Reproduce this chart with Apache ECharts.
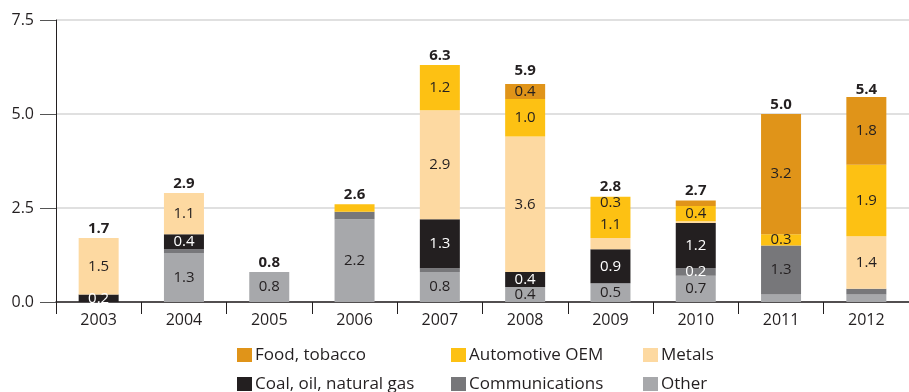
<!DOCTYPE html>
<html>
<head>
<meta charset="utf-8">
<title>Sector breakdown by year</title>
<script src="https://cdn.jsdelivr.net/npm/echarts@6/dist/echarts.min.js"></script>
<style>
  html, body { margin: 0; padding: 0; background: #ffffff; }
  #chart { width: 909px; height: 392px; }
</style>
</head>
<body>
<div id="chart"></div>
<script>
// Years on the category axis
const years = ['2003', '2004', '2005', '2006', '2007', '2008', '2009', '2010', '2011', '2012'];

// Stacked segment values, bottom to top
const other          = [0,   1.3, 0.8, 2.2, 0.8, 0.4, 0.5, 0.7,  0.2, 0.2];
const communications = [0,   0.1, 0,   0.2, 0.1, 0,   0,   0.2,  1.3, 0.15];
const coal           = [0.2, 0.4, 0,   0,   1.3, 0.4, 0.9, 1.2,  0,   0];
const metals         = [1.5, 1.1, 0,   0,   2.9, 3.6, 0.3, 0.05, 0,   1.4];
const automotive     = [0,   0,   0,   0.2, 1.2, 1.0, 1.1, 0.4,  0.3, 1.9];
const food           = [0,   0,   0,   0,   0,   0.4, 0,   0.15, 3.2, 1.8];

// Year totals printed above each bar
const totals = [1.7, 2.9, 0.8, 2.6, 6.3, 5.9, 2.8, 2.7, 5.0, 5.4];

// Y axis tick values
const yTicks = [0, 2.5, 5.0, 7.5];

// Segments too thin to carry a printed value
const unlabeled = {
  other: ['2011', '2012'],
  communications: ['2004', '2006', '2007', '2012'],
  metals: ['2010'],
  automotive: ['2006'],
  food: ['2010']
};

const TEXT = '#231f20';
const FONT = '"Open Sans", "Noto Sans", sans-serif';

const seriesDefs = [
  { key: 'other',          name: 'Other',                  data: other,          color: '#a7a8ab', text: TEXT },
  { key: 'communications', name: 'Communications',         data: communications, color: '#77777a', text: TEXT },
  { key: 'coal',           name: 'Coal, oil, natural gas', data: coal,           color: '#231f20', text: '#ffffff' },
  { key: 'metals',         name: 'Metals',                 data: metals,         color: '#fdd9a1', text: TEXT },
  { key: 'automotive',     name: 'Automotive OEM',         data: automotive,     color: '#fdc113', text: TEXT },
  { key: 'food',           name: 'Food, tobacco',          data: food,           color: '#e09419', text: TEXT }
];

// Per-item label tweaks (colour on the mid-grey segment, crowded 2009 bar)
const labelTweaks = {
  communications: { '2010': { color: '#ffffff' } },
  metals: { '2009': { offset: [0, -41] } },
  automotive: { '2009': { offset: [0, 7] } }
};

const BAR_W = 40;

const stackSeries = seriesDefs.map(def => ({
  name: def.name,
  type: 'bar',
  stack: 'total',
  barWidth: BAR_W,
  barGap: '-100%',
  itemStyle: { color: def.color },
  emphasis: { disabled: true },
  label: {
    show: true,
    position: 'inside',
    color: def.text,
    fontFamily: FONT,
    fontSize: 15,
    formatter: p => {
      if (!p.value) return '';
      const hidden = unlabeled[def.key] || [];
      if (hidden.indexOf(p.name) >= 0) return '';
      return p.value.toFixed(1);
    }
  },
  data: def.data.map((v, i) => {
    const tweak = (labelTweaks[def.key] || {})[years[i]];
    return tweak ? { value: v, label: tweak } : v;
  })
}));

// Transparent overlay bars carrying the year totals
const totalSeries = {
  name: 'Total',
  type: 'bar',
  barWidth: BAR_W,
  barGap: '-100%',
  z: 1,
  silent: true,
  itemStyle: { color: 'rgba(0,0,0,0)' },
  label: {
    show: true,
    position: 'top',
    distance: 2,
    color: TEXT,
    fontFamily: FONT,
    fontSize: 15,
    fontWeight: 'bold',
    formatter: p => p.value.toFixed(1)
  },
  data: totals
};

// Legend laid out as a 3 x 2 grid, one legend box per entry
const legendCells = [
  { name: 'Food, tobacco',          left: 237, top: 346 },
  { name: 'Automotive OEM',         left: 451, top: 346 },
  { name: 'Metals',                 left: 643, top: 346 },
  { name: 'Coal, oil, natural gas', left: 237, top: 375 },
  { name: 'Communications',         left: 451, top: 375 },
  { name: 'Other',                  left: 643, top: 375 }
];

const legends = legendCells.map(cell => ({
  left: cell.left,
  top: cell.top,
  padding: 0,
  itemWidth: 15,
  itemHeight: 14,
  icon: 'rect',
  selectedMode: false,
  textStyle: { color: TEXT, fontFamily: FONT, fontSize: 17, lineHeight: 18, padding: [0, 0, 0, -2] },
  data: [cell.name]
}));

const chart = echarts.init(document.getElementById('chart'), null, { renderer: 'canvas' });

chart.setOption({
  animation: false,
  backgroundColor: '#ffffff',
  grid: { left: 56, top: 20, right: -4, bottom: 90, containLabel: false },
  legend: legends,
  xAxis: {
    type: 'category',
    data: years,
    axisLine: { lineStyle: { color: TEXT, width: 1.5 } },
    axisTick: { show: true, length: 12, interval: 0, lineStyle: { color: TEXT, width: 1 } },
    axisLabel: { color: TEXT, fontFamily: FONT, fontSize: 16, margin: 10, interval: 0 }
  },
  yAxis: {
    type: 'value',
    min: yTicks[0],
    max: yTicks[yTicks.length - 1],
    interval: yTicks[1] - yTicks[0],
    axisLine: { show: true, lineStyle: { color: TEXT, width: 1 } },
    axisTick: { show: true, length: 16, lineStyle: { color: '#555555', width: 1 } },
    axisLabel: { color: TEXT, fontFamily: FONT, fontSize: 16, margin: 22, formatter: v => v.toFixed(1) },
    splitLine: { show: true, lineStyle: { color: '#d6d6d6', width: 1.5 } }
  },
  series: stackSeries.concat([totalSeries])
});
</script>
</body>
</html>
